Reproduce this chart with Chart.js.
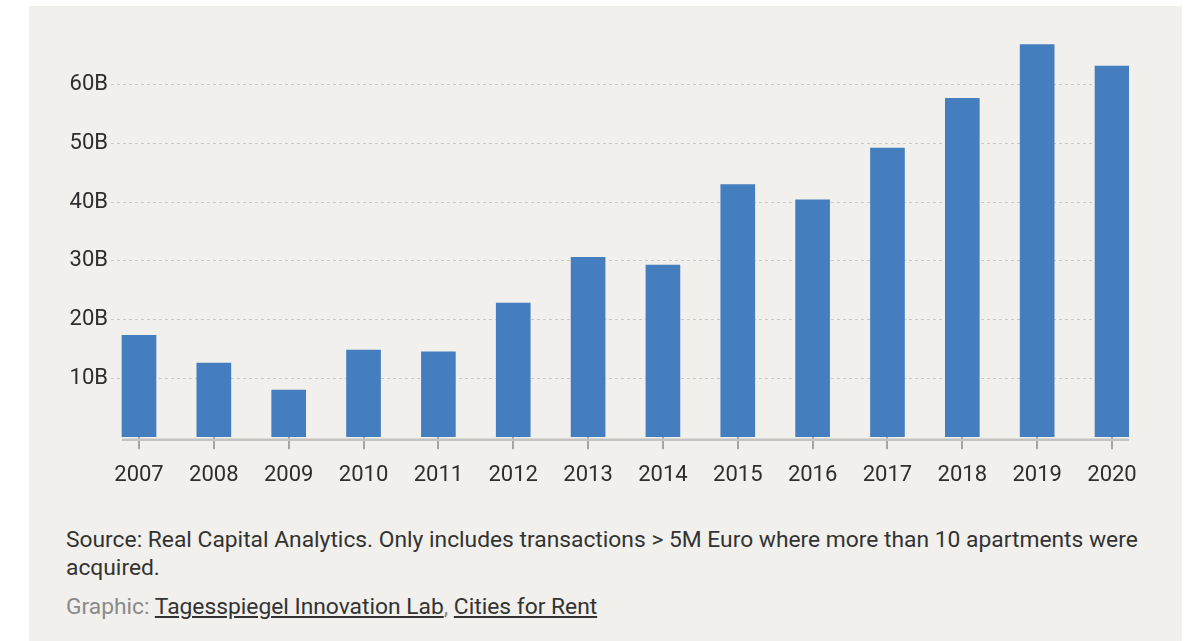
<!DOCTYPE html>
<html>
<head>
<meta charset="utf-8">
<title>Residential transaction volume</title>
<script src="https://cdn.jsdelivr.net/npm/chart.js@4"></script>
<style>
  html, body { margin: 0; padding: 0; background: #ffffff; }
  body { width: 1188px; height: 641px; position: relative; overflow: hidden; font-family: Roboto, "Noto Sans", sans-serif; }
  #panel { position: absolute; left: 29px; top: 6px; width: 1153px; height: 635px; background: #f1f0ec; }
  #chart { position: absolute; left: 0; top: 0; }
  #notes { position: absolute; left: 37px; top: 519.6px; font-size: 22.8px; line-height: 28px; color: #333333; white-space: nowrap; }
  #credit { margin-top: 11.6px; color: #8a8a8a; }
  #credit a { color: #333333; text-decoration: underline; }
</style>
</head>
<body>
<div id="panel">
  <canvas id="chart" width="1153" height="494"></canvas>
  <div id="notes">
    <div>Source: Real Capital Analytics. Only includes transactions &gt; 5M Euro where more than 10 apartments were<br>acquired.</div>
    <div id="credit">Graphic: <a>Tagesspiegel Innovation Lab</a>, <a>Cities for Rent</a></div>
  </div>
</div>
<script>
// Annual transaction volume, billions of euro
const years = [2007, 2008, 2009, 2010, 2011, 2012, 2013, 2014, 2015, 2016, 2017, 2018, 2019, 2020];
const volumes = [17.3, 12.6, 8.0, 14.8, 14.5, 22.8, 30.6, 29.3, 43.0, 40.4, 49.2, 57.7, 66.9, 63.2];
const yTickValues = [10, 20, 30, 40, 50, 60];

Chart.defaults.font.family = 'Roboto, "Noto Sans", sans-serif';

// Baseline under the bars, running from the first bar's left edge to the last bar's right edge
const baseline = {
  id: 'baseline',
  afterDraw(chart) {
    const bars = chart.getDatasetMeta(0).data;
    if (!bars.length) return;
    const first = bars[0];
    const last = bars[bars.length - 1];
    const x0 = first.x - first.width / 2;
    const x1 = last.x + last.width / 2;
    const y = chart.chartArea.bottom + 2.7;
    const ctx = chart.ctx;
    ctx.save();
    ctx.strokeStyle = '#c4c3bf';
    ctx.lineWidth = 2.6;
    ctx.beginPath();
    ctx.moveTo(x0, y);
    ctx.lineTo(x1, y);
    ctx.stroke();
    ctx.restore();
  }
};

new Chart(document.getElementById('chart'), {
  type: 'bar',
  data: {
    datasets: [{
      data: years.map((yr, i) => ({ x: yr, y: volumes[i] })),
      backgroundColor: '#447ebf',
      borderWidth: 0,
      barThickness: 34
    }]
  },
  options: {
    responsive: false,
    animation: false,
    layout: { padding: { top: 38.3, right: 53, left: 0, bottom: 0 } },
    plugins: { legend: { display: false }, tooltip: { enabled: false } },
    scales: {
      x: {
        type: 'linear',
        offset: false,
        min: 2007 - 0.374,
        max: 2020 + 0.227,
        afterBuildTicks: s => { s.ticks = years.map(v => ({ value: v })); },
        afterFit: s => { s.height = 63; },
        border: { display: false },
        grid: { offset: false, drawOnChartArea: false, drawTicks: true, tickLength: 12.3, color: '#a6a6a3', lineWidth: 2 },
        ticks: {
          callback: v => String(v),
          color: '#2e2e2e',
          font: { size: 22 },
          padding: 13,
          maxRotation: 0,
          autoSkip: false
        }
      },
      y: {
        min: 0,
        max: Math.max(...volumes),
        afterBuildTicks: s => { s.ticks = yTickValues.map(v => ({ value: v })); },
        afterFit: s => { s.width = 82; },
        border: { display: false, dash: [3, 3] },
        grid: { drawTicks: false, color: '#c9c8c4', lineWidth: 1 },
        ticks: {
          callback: v => v + 'B',
          color: '#2e2e2e',
          font: { size: 22 },
          padding: 3
        }
      }
    }
  },
  plugins: [baseline]
});
</script>
</body>
</html>
